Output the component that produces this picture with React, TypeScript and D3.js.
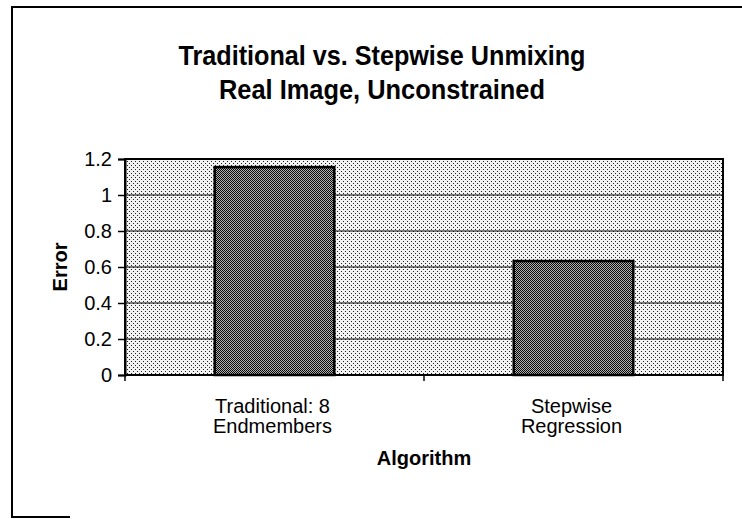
import React, { useRef, useEffect } from 'react';
import * as d3 from 'd3';

// chart data
const categories = ['Traditional: 8\nEndmembers', 'Stepwise\nRegression'];
const errors = [1.155, 0.633];
const yTicks = [0, 0.2, 0.4, 0.6, 0.8, 1, 1.2];
const titleLines = ['Traditional vs. Stepwise Unmixing', 'Real Image, Unconstrained'];

const App = () => {
  const svgRef = useRef<SVGSVGElement>(null);

  useEffect(() => {
    const root = d3.select(svgRef.current);
    root.selectAll('*').remove();

    const width = 742;
    const height = 519;
    const margin = { top: 159, right: 19, bottom: 144, left: 125 };
    const chartWidth = width - margin.left - margin.right;
    const chartHeight = height - margin.top - margin.bottom;
    const font = 'Arial, "Liberation Sans", sans-serif';

    root.attr('width', width).attr('height', height);

    // Patterns: light stipple for plot area, dense checker for bars
    const defs = root.append('defs');
    const stipple = defs
      .append('pattern')
      .attr('id', 'stipple')
      .attr('patternUnits', 'userSpaceOnUse')
      .attr('width', 4)
      .attr('height', 4);
    stipple.append('rect').attr('width', 4).attr('height', 4).attr('fill', '#f2f2f2');
    stipple.append('rect').attr('x', 0).attr('y', 0).attr('width', 1).attr('height', 1).attr('fill', '#222');
    stipple.append('rect').attr('x', 2).attr('y', 2).attr('width', 1).attr('height', 1).attr('fill', '#222');

    const checker = defs
      .append('pattern')
      .attr('id', 'checker')
      .attr('patternUnits', 'userSpaceOnUse')
      .attr('width', 2)
      .attr('height', 2);
    checker.append('rect').attr('width', 2).attr('height', 2).attr('fill', '#b0b0b0');
    checker.append('rect').attr('x', 0).attr('y', 0).attr('width', 1).attr('height', 1).attr('fill', '#0a0a0a');
    checker.append('rect').attr('x', 1).attr('y', 1).attr('width', 1).attr('height', 1).attr('fill', '#0a0a0a');

    // Outer frame (scanned page border)
    root.append('rect').attr('width', width).attr('height', height).attr('fill', '#fff');
    root.append('line').attr('x1', 12).attr('x2', width).attr('y1', 7).attr('y2', 7)
      .attr('stroke', '#000').attr('stroke-width', 2);
    root.append('line').attr('x1', 12).attr('x2', 12).attr('y1', 6).attr('y2', 517)
      .attr('stroke', '#000').attr('stroke-width', 2);
    root.append('line').attr('x1', 11).attr('x2', 70).attr('y1', 517).attr('y2', 517)
      .attr('stroke', '#000').attr('stroke-width', 2);

    // Title
    const titleWidths = [407, 326];
    titleLines.forEach((t, i) => {
      root
        .append('text')
        .attr('x', 382)
        .attr('y', 65 + i * 34)
        .attr('text-anchor', 'middle')
        .attr('font-family', font)
        .attr('font-weight', 'bold')
        .attr('font-size', 27)
        .attr('textLength', titleWidths[i])
        .attr('lengthAdjust', 'spacingAndGlyphs')
        .text(t);
    });

    const svg = root.append('g').attr('transform', `translate(${margin.left}, ${margin.top})`);

    const xScale = d3
      .scaleBand()
      .domain(categories)
      .range([0, chartWidth])
      .paddingInner(0.6)
      .paddingOuter(0.3);

    const yScale = d3.scaleLinear().domain([0, 1.2]).range([chartHeight, 0]);

    // Plot area
    svg
      .append('rect')
      .attr('width', chartWidth)
      .attr('height', chartHeight)
      .attr('fill', 'url(#stipple)');

    // Gridlines
    svg
      .selectAll('.grid')
      .data(yTicks.filter((d) => d > 0 && d < 1.2))
      .enter()
      .append('line')
      .attr('x1', 0)
      .attr('x2', chartWidth)
      .attr('y1', (d) => yScale(d))
      .attr('y2', (d) => yScale(d))
      .attr('stroke', '#000')
      .attr('stroke-width', 1.2);

    // Bars
    svg
      .selectAll('.bar')
      .data(categories)
      .enter()
      .append('rect')
      .attr('x', (d) => xScale(d)!)
      .attr('y', (_, i) => yScale(errors[i]))
      .attr('width', xScale.bandwidth())
      .attr('height', (_, i) => chartHeight - yScale(errors[i]))
      .attr('fill', 'url(#checker)')
      .attr('stroke', '#000')
      .attr('stroke-width', 2.5);

    // Plot border
    svg
      .append('rect')
      .attr('width', chartWidth)
      .attr('height', chartHeight)
      .attr('fill', 'none')
      .attr('stroke', '#000')
      .attr('stroke-width', 2);

    // Y axis
    const yAxis = svg
      .append('g')
      .call(d3.axisLeft(yScale).tickValues(yTicks).tickSize(7).tickPadding(6).tickFormat(d3.format('~g')));
    yAxis.select('.domain').attr('stroke-width', 2);
    yAxis.selectAll('line').attr('stroke-width', 1.5);
    yAxis.selectAll('text').attr('font-family', font).attr('font-size', 20).attr('fill', '#000');

    // X axis: ticks at category boundaries
    const xAxis = svg.append('g').attr('transform', `translate(0, ${chartHeight})`);
    xAxis
      .append('line')
      .attr('x1', 0)
      .attr('x2', chartWidth)
      .attr('stroke', '#000')
      .attr('stroke-width', 2);
    const step = xScale.step();
    const bounds = [0, ...categories.map((c) => xScale(c)! + xScale.bandwidth() + (step - xScale.bandwidth()) / 2)];
    xAxis
      .selectAll('.xtick')
      .data(bounds)
      .enter()
      .append('line')
      .attr('x1', (d) => d)
      .attr('x2', (d) => d)
      .attr('y1', 0)
      .attr('y2', 6)
      .attr('stroke', '#000')
      .attr('stroke-width', 1.5);

    categories.forEach((c) => {
      const cx = xScale(c)! + xScale.bandwidth() / 2 - 2;
      c.split('\n').forEach((line, j) => {
        xAxis
          .append('text')
          .attr('x', cx)
          .attr('y', 38 + j * 20)
          .attr('text-anchor', 'middle')
          .attr('font-family', font)
          .attr('font-size', 20)
          .text(line);
      });
    });

    // Axis titles
    svg
      .append('text')
      .attr('x', chartWidth / 2)
      .attr('y', chartHeight + 90)
      .attr('text-anchor', 'middle')
      .attr('font-family', font)
      .attr('font-weight', 'bold')
      .attr('font-size', 20)
      .text('Algorithm');

    svg
      .append('text')
      .attr('transform', `translate(${67 - margin.left}, ${chartHeight / 2}) rotate(-90)`)
      .attr('text-anchor', 'middle')
      .attr('font-family', font)
      .attr('font-weight', 'bold')
      .attr('font-size', 20)
      .text('Error');
  }, []);

  return <svg ref={svgRef} style={{ position: 'absolute', left: 0, top: 0, display: 'block' }} />;
};

export default App;
